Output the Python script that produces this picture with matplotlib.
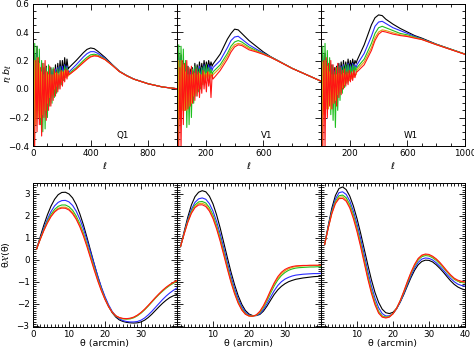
import matplotlib
matplotlib.use('Agg')
import matplotlib.pyplot as plt
from matplotlib.ticker import MultipleLocator, FixedLocator, NullFormatter

# ---------------- data: top row (r_l b_l vs multipole) ----------------
bands = ['Q1', 'V1', 'W1']
ell_noise = [0, 5, 12, 20, 28, 36, 44, 52, 60, 68, 76, 84, 92, 100, 108, 116,
             124, 132, 140, 148, 156, 164, 172, 180, 188, 196, 204, 212, 220, 228, 236, 244]
ell_smooth = [250, 300, 350, 375, 400, 425, 450, 500, 550, 600, 650, 700, 800, 900, 1000]

# Q1
q1_black_noise = [1.2, -0.9, 0.25, -0.1, 0.3, -0.1, 0.22, -0.12, 0.18, -0.1, 0.15, -0.08, 0.16, -0.05, 0.13, -0.02,
                  0.15, 0.0, 0.14, 0.03, 0.17, 0.06, 0.18, 0.08, 0.2, 0.1, 0.2, 0.12, 0.22, 0.13, 0.21, 0.14]
q1_blue_noise = [1.2, -0.9, 0.22, -0.15, 0.25, -0.12, 0.2, -0.15, 0.16, -0.12, 0.13, -0.1, 0.14, -0.07, 0.12, -0.04,
                 0.13, -0.02, 0.12, 0.01, 0.14, 0.04, 0.15, 0.06, 0.16, 0.08, 0.16, 0.1, 0.17, 0.11, 0.16, 0.12]
q1_green_noise = [1.3, -1.0, 0.32, -0.2, 0.3, -0.15, 0.28, -0.25, 0.2, -0.3, 0.18, -0.28, 0.15, -0.2, 0.17, -0.12,
                  0.14, -0.1, 0.15, -0.06, 0.12, -0.03, 0.14, 0.0, 0.15, 0.03, 0.13, 0.06, 0.16, 0.08, 0.15, 0.1]
q1_orange_noise = [1.2, -0.9, 0.2, -0.25, 0.22, -0.2, 0.18, -0.2, 0.12, -0.18, 0.1, -0.15, 0.12, -0.1, 0.1, -0.06,
                   0.1, -0.04, 0.1, 0.0, 0.11, 0.02, 0.11, 0.04, 0.12, 0.05, 0.12, 0.07, 0.13, 0.08, 0.13, 0.09]
q1_red_noise = [1.5, -1.2, -0.38, 0.2, -0.3, 0.22, -0.25, 0.15, -0.33, 0.18, -0.2, 0.2, -0.22, 0.12, -0.15, 0.16,
                -0.12, 0.1, -0.08, 0.14, -0.05, 0.12, -0.02, 0.1, 0.0, 0.13, 0.02, 0.12, 0.05, 0.14, 0.07, 0.13]
q1_black = [0.15, 0.2, 0.255, 0.278, 0.288, 0.283, 0.265, 0.222, 0.172, 0.125, 0.095, 0.07, 0.037, 0.014, 0.002]
q1_blue = [0.12, 0.17, 0.225, 0.248, 0.262, 0.262, 0.25, 0.215, 0.17, 0.124, 0.094, 0.07, 0.037, 0.014, 0.002]
q1_green = [0.11, 0.15, 0.2, 0.222, 0.24, 0.244, 0.238, 0.21, 0.168, 0.123, 0.094, 0.069, 0.037, 0.014, 0.002]
q1_orange = [0.1, 0.14, 0.19, 0.212, 0.23, 0.236, 0.232, 0.207, 0.167, 0.123, 0.093, 0.069, 0.037, 0.014, 0.002]
q1_red = [0.1, 0.14, 0.185, 0.207, 0.225, 0.232, 0.23, 0.206, 0.166, 0.122, 0.093, 0.069, 0.036, 0.014, 0.002]

# V1
v1_black_noise = [1.2, -0.9, 0.25, -0.05, 0.24, 0.0, 0.2, -0.05, 0.18, -0.04, 0.16, -0.02, 0.14, 0.0, 0.15, 0.05,
                  0.18, 0.07, 0.17, 0.09, 0.19, 0.1, 0.18, 0.12, 0.2, 0.13, 0.19, 0.14, 0.2, 0.15, 0.19, 0.16]
v1_blue_noise = [1.2, -0.9, 0.22, -0.08, 0.22, -0.04, 0.18, -0.08, 0.15, -0.06, 0.14, -0.04, 0.12, -0.02, 0.13, 0.02,
                 0.15, 0.04, 0.14, 0.06, 0.16, 0.07, 0.15, 0.09, 0.17, 0.1, 0.16, 0.11, 0.17, 0.12, 0.16, 0.13]
v1_green_noise = [1.3, -1.0, 0.31, -0.1, 0.3, -0.05, 0.28, -0.15, 0.2, -0.27, 0.15, -0.25, 0.1, -0.2, 0.14, -0.1,
                  0.16, -0.05, 0.15, -0.02, 0.14, 0.0, 0.15, 0.03, 0.16, 0.05, 0.17, 0.07, 0.15, 0.08, 0.14, 0.1]
v1_orange_noise = [1.2, -0.9, 0.2, -0.2, 0.2, -0.15, 0.17, -0.15, 0.12, -0.15, 0.1, -0.12, 0.1, -0.1, 0.1, -0.05,
                   0.11, -0.03, 0.1, 0.0, 0.11, 0.02, 0.1, 0.04, 0.12, 0.05, 0.11, 0.06, 0.12, 0.07, 0.11, 0.08]
v1_red_noise = [1.5, -1.2, -0.45, 0.15, -0.42, 0.2, -0.25, 0.18, -0.15, 0.2, -0.14, 0.15, -0.12, 0.16, -0.1, 0.12,
                -0.08, 0.14, -0.05, 0.12, -0.06, 0.1, -0.03, 0.13, 0.0, 0.1, -0.02, 0.12, 0.02, 0.1, -0.06, 0.1]
v1_black = [0.175, 0.245, 0.35, 0.39, 0.42, 0.415, 0.39, 0.34, 0.3, 0.26, 0.227, 0.2, 0.145, 0.1, 0.055]
v1_blue = [0.15, 0.2, 0.29, 0.34, 0.365, 0.37, 0.35, 0.31, 0.28, 0.252, 0.225, 0.199, 0.145, 0.1, 0.055]
v1_green = [0.12, 0.17, 0.25, 0.3, 0.33, 0.34, 0.33, 0.295, 0.27, 0.248, 0.224, 0.198, 0.145, 0.1, 0.055]
v1_orange = [0.1, 0.15, 0.23, 0.28, 0.31, 0.32, 0.315, 0.285, 0.265, 0.245, 0.223, 0.198, 0.145, 0.1, 0.055]
v1_red = [0.07, 0.13, 0.21, 0.26, 0.295, 0.31, 0.305, 0.275, 0.26, 0.243, 0.222, 0.197, 0.144, 0.1, 0.055]

# W1
w1_black_noise = [1.2, -0.9, 0.24, -0.04, 0.25, 0.0, 0.21, -0.03, 0.18, -0.02, 0.17, 0.0, 0.15, 0.02, 0.16, 0.06,
                  0.18, 0.08, 0.19, 0.1, 0.2, 0.12, 0.19, 0.13, 0.21, 0.14, 0.2, 0.15, 0.21, 0.16, 0.2, 0.18]
w1_blue_noise = [1.2, -0.9, 0.21, -0.07, 0.22, -0.03, 0.19, -0.06, 0.16, -0.05, 0.15, -0.03, 0.13, -0.01, 0.14, 0.03,
                 0.16, 0.05, 0.16, 0.07, 0.17, 0.09, 0.16, 0.1, 0.18, 0.11, 0.17, 0.12, 0.18, 0.13, 0.17, 0.15]
w1_green_noise = [1.3, -1.0, 0.3, -0.1, 0.32, -0.05, 0.27, -0.12, 0.22, -0.18, 0.16, -0.22, 0.12, -0.27, 0.15, -0.15,
                  0.16, -0.08, 0.15, -0.03, 0.16, 0.01, 0.17, 0.04, 0.17, 0.06, 0.16, 0.08, 0.17, 0.1, 0.16, 0.12]
w1_orange_noise = [1.2, -0.9, 0.19, -0.18, 0.2, -0.14, 0.16, -0.14, 0.12, -0.14, 0.1, -0.1, 0.1, -0.08, 0.1, -0.04,
                   0.11, -0.02, 0.1, 0.01, 0.11, 0.03, 0.1, 0.05, 0.11, 0.06, 0.1, 0.07, 0.11, 0.08, 0.1, 0.1]
w1_red_noise = [1.5, -1.2, -0.5, 0.2, -0.4, 0.22, -0.2, 0.18, -0.12, 0.2, -0.14, 0.17, -0.1, 0.15, -0.12, 0.18,
                -0.06, 0.15, -0.04, 0.13, 0.0, 0.14, 0.02, 0.12, 0.03, 0.13, 0.05, 0.12, 0.06, 0.13, 0.08, 0.12]
w1_black = [0.2, 0.31, 0.45, 0.5, 0.52, 0.515, 0.49, 0.455, 0.425, 0.4, 0.375, 0.357, 0.315, 0.28, 0.245]
w1_blue = [0.17, 0.25, 0.37, 0.44, 0.47, 0.475, 0.46, 0.43, 0.41, 0.39, 0.37, 0.352, 0.314, 0.279, 0.245]
w1_green = [0.15, 0.21, 0.32, 0.39, 0.43, 0.44, 0.43, 0.41, 0.39, 0.38, 0.365, 0.35, 0.313, 0.279, 0.245]
w1_orange = [0.135, 0.19, 0.29, 0.36, 0.4, 0.415, 0.41, 0.395, 0.38, 0.373, 0.36, 0.348, 0.312, 0.278, 0.244]
w1_red = [0.12, 0.17, 0.27, 0.34, 0.385, 0.405, 0.4, 0.385, 0.375, 0.368, 0.357, 0.347, 0.311, 0.277, 0.243]

# ---------------- data: bottom row (theta X(theta)) ----------------
theta = list(range(1, 41))
p1_black = [0.5, 1.05, 1.58, 2.05, 2.45, 2.76, 2.97, 3.07, 3.08, 3.0,
            2.82, 2.52, 2.1, 1.6, 1.02, 0.42, -0.18, -0.75, -1.27, -1.72,
            -2.1, -2.4, -2.6, -2.73, -2.8, -2.84, -2.86, -2.87, -2.86, -2.82,
            -2.74, -2.62, -2.47, -2.3, -2.13, -1.97, -1.83, -1.71, -1.63, -1.57]
p1_blue = [0.5, 0.98, 1.45, 1.85, 2.2, 2.46, 2.62, 2.7, 2.71, 2.64,
           2.48, 2.22, 1.86, 1.42, 0.9, 0.35, -0.2, -0.74, -1.24, -1.67,
           -2.04, -2.34, -2.55, -2.68, -2.76, -2.8, -2.82, -2.82, -2.8, -2.74,
           -2.64, -2.5, -2.34, -2.16, -1.98, -1.8, -1.64, -1.5, -1.38, -1.27]
p1_green = [0.5, 0.95, 1.38, 1.76, 2.07, 2.3, 2.44, 2.5, 2.5, 2.42,
            2.26, 2.0, 1.65, 1.22, 0.72, 0.18, -0.36, -0.88, -1.35, -1.77,
            -2.12, -2.38, -2.55, -2.64, -2.68, -2.69, -2.68, -2.63, -2.54, -2.42,
            -2.27, -2.1, -1.92, -1.74, -1.57, -1.42, -1.28, -1.16, -1.06, -0.97]
p1_orange = [0.5, 0.94, 1.35, 1.71, 2.0, 2.22, 2.35, 2.4, 2.4, 2.32,
             2.16, 1.91, 1.57, 1.15, 0.66, 0.13, -0.4, -0.91, -1.37, -1.78,
             -2.12, -2.38, -2.54, -2.63, -2.67, -2.68, -2.66, -2.61, -2.52, -2.4,
             -2.25, -2.08, -1.9, -1.72, -1.55, -1.39, -1.25, -1.13, -1.03, -0.94]
p1_red = [0.5, 0.93, 1.33, 1.68, 1.97, 2.18, 2.31, 2.36, 2.35, 2.27,
          2.1, 1.85, 1.51, 1.09, 0.6, 0.07, -0.46, -0.96, -1.41, -1.8,
          -2.13, -2.38, -2.54, -2.62, -2.66, -2.67, -2.65, -2.6, -2.51, -2.39,
          -2.24, -2.07, -1.89, -1.71, -1.54, -1.38, -1.24, -1.12, -1.02, -0.94]

p2_black = [0.62, 1.3, 1.95, 2.5, 2.88, 3.08, 3.15, 3.1, 2.9, 2.55,
            2.05, 1.45, 0.78, 0.1, -0.55, -1.13, -1.63, -2.02, -2.3, -2.46,
            -2.53, -2.53, -2.48, -2.33, -2.1, -1.83, -1.57, -1.36, -1.2, -1.08,
            -0.99, -0.93, -0.88, -0.85, -0.82, -0.8, -0.78, -0.76, -0.75, -0.74]
p2_blue = [0.62, 1.25, 1.83, 2.3, 2.62, 2.78, 2.82, 2.76, 2.56, 2.22,
           1.75, 1.18, 0.54, -0.12, -0.75, -1.3, -1.77, -2.13, -2.37, -2.5,
           -2.54, -2.53, -2.45, -2.26, -1.99, -1.69, -1.4, -1.16, -0.99, -0.87,
           -0.79, -0.73, -0.69, -0.67, -0.65, -0.64, -0.63, -0.62, -0.62, -0.61]
p2_green = [0.62, 1.22, 1.77, 2.21, 2.5, 2.64, 2.66, 2.59, 2.38, 2.04,
            1.57, 1.0, 0.37, -0.28, -0.9, -1.44, -1.89, -2.22, -2.43, -2.53,
            -2.55, -2.52, -2.4, -2.17, -1.86, -1.51, -1.18, -0.91, -0.71, -0.57,
            -0.47, -0.41, -0.37, -0.35, -0.34, -0.33, -0.32, -0.32, -0.31, -0.31]
p2_orange = [0.62, 1.2, 1.74, 2.16, 2.43, 2.56, 2.58, 2.5, 2.29, 1.95,
             1.48, 0.92, 0.29, -0.36, -0.97, -1.5, -1.94, -2.26, -2.46, -2.55,
             -2.56, -2.51, -2.37, -2.12, -1.8, -1.44, -1.1, -0.83, -0.63, -0.49,
             -0.4, -0.34, -0.3, -0.28, -0.27, -0.26, -0.26, -0.25, -0.25, -0.25]
p2_red = [0.62, 1.19, 1.71, 2.12, 2.38, 2.5, 2.51, 2.43, 2.22, 1.88,
          1.41, 0.85, 0.22, -0.42, -1.02, -1.54, -1.97, -2.28, -2.47, -2.55,
          -2.56, -2.5, -2.34, -2.08, -1.75, -1.38, -1.04, -0.76, -0.56, -0.43,
          -0.35, -0.3, -0.27, -0.26, -0.25, -0.25, -0.24, -0.24, -0.24, -0.24]

p3_black = [0.7, 1.55, 2.35, 2.93, 3.25, 3.32, 3.2, 2.9, 2.45, 1.88,
            1.22, 0.5, -0.22, -0.9, -1.48, -1.93, -2.24, -2.4, -2.44, -2.38,
            -2.2, -1.92, -1.57, -1.18, -0.8, -0.47, -0.22, -0.07, -0.01, -0.02,
            -0.09, -0.22, -0.38, -0.56, -0.76, -0.95, -1.11, -1.23, -1.31, -1.36]
p3_blue = [0.7, 1.5, 2.24, 2.77, 3.06, 3.1, 2.98, 2.68, 2.22, 1.64,
           0.97, 0.24, -0.5, -1.18, -1.74, -2.17, -2.44, -2.55, -2.54, -2.44,
           -2.23, -1.92, -1.54, -1.12, -0.72, -0.37, -0.11, 0.04, 0.09, 0.07,
           0.0, -0.13, -0.29, -0.47, -0.66, -0.84, -0.99, -1.1, -1.16, -1.19]
p3_green = [0.7, 1.47, 2.17, 2.66, 2.92, 2.95, 2.83, 2.52, 2.05, 1.46,
            0.78, 0.04, -0.7, -1.37, -1.92, -2.33, -2.55, -2.6, -2.57, -2.44,
            -2.21, -1.88, -1.48, -1.05, -0.63, -0.27, 0.0, 0.15, 0.2, 0.18,
            0.1, -0.02, -0.18, -0.36, -0.55, -0.73, -0.88, -0.97, -1.02, -1.05]
p3_orange = [0.7, 1.45, 2.13, 2.61, 2.85, 2.87, 2.74, 2.43, 1.96, 1.37,
             0.69, -0.05, -0.79, -1.45, -1.99, -2.38, -2.58, -2.62, -2.58, -2.44,
             -2.2, -1.86, -1.45, -1.01, -0.59, -0.23, 0.04, 0.19, 0.24, 0.22,
             0.14, 0.02, -0.14, -0.33, -0.52, -0.7, -0.85, -0.95, -1.0, -1.02]
p3_red = [0.7, 1.44, 2.1, 2.56, 2.79, 2.8, 2.67, 2.36, 1.88, 1.29,
          0.61, -0.13, -0.86, -1.51, -2.04, -2.42, -2.6, -2.64, -2.6, -2.45,
          -2.2, -1.85, -1.43, -0.98, -0.56, -0.2, 0.07, 0.22, 0.27, 0.25,
          0.17, 0.05, -0.11, -0.3, -0.5, -0.68, -0.83, -0.92, -0.97, -1.0]

top_xticks = [[0, 400, 800], [200, 600], [200, 600, 1000]]
bot_xticks = [[0, 10, 20, 30], [10, 20, 30], [10, 20, 30, 40]]
top_yticks = [-0.4, -0.2, 0.0, 0.2, 0.4, 0.6]
bot_yticks = [-3, -2, -1, 0, 1, 2, 3]

# ---------------- plotting ----------------
colors = ['black', '#2a2aff', '#1ec01e', '#e0a010', '#ff1414']
top_series = [
    [(q1_black_noise, q1_black), (q1_blue_noise, q1_blue), (q1_green_noise, q1_green),
     (q1_orange_noise, q1_orange), (q1_red_noise, q1_red)],
    [(v1_black_noise, v1_black), (v1_blue_noise, v1_blue), (v1_green_noise, v1_green),
     (v1_orange_noise, v1_orange), (v1_red_noise, v1_red)],
    [(w1_black_noise, w1_black), (w1_blue_noise, w1_blue), (w1_green_noise, w1_green),
     (w1_orange_noise, w1_orange), (w1_red_noise, w1_red)],
]
bot_series = [
    [p1_black, p1_blue, p1_green, p1_orange, p1_red],
    [p2_black, p2_blue, p2_green, p2_orange, p2_red],
    [p3_black, p3_blue, p3_green, p3_orange, p3_red],
]

plt.rcParams['font.family'] = ['DejaVu Sans']
plt.rcParams['mathtext.fontset'] = 'dejavusans'
W, H = 474, 351
fig = plt.figure(figsize=(W / 100, H / 100), dpi=100)

x0s = [33, 177, 321]
pw = 144
fs = 6.3


def style(ax, xmaj, xmin, ymaj, ymin, show_y):
    ax.xaxis.set_major_locator(FixedLocator(xmaj))
    ax.xaxis.set_minor_locator(MultipleLocator(xmin))
    ax.yaxis.set_major_locator(FixedLocator(ymaj))
    ax.yaxis.set_minor_locator(MultipleLocator(ymin))
    ax.tick_params(which='both', direction='in', top=True, right=True,
                   labelsize=fs, width=0.6, pad=2.5)
    ax.tick_params(which='major', length=4.5)
    ax.tick_params(which='minor', length=2.2)
    if not show_y:
        ax.yaxis.set_major_formatter(NullFormatter())
    for s in ax.spines.values():
        s.set_linewidth(0.7)


for i in range(3):
    # top panel
    ax = fig.add_axes([x0s[i] / W, 1 - 146 / H, pw / W, 142.5 / H])
    for (nz, sm), c in zip(top_series[i], colors):
        ax.plot(ell_noise + ell_smooth, nz + sm, color=c, lw=0.8)
    ax.set_xlim(0, 1000)
    ax.set_ylim(-0.4, 0.6)
    style(ax, top_xticks[i], 100, top_yticks, 0.05, i == 0)
    ax.set_xlabel(r'$\ell$', fontsize=fs + 0.5, labelpad=1)
    ax.text(0.625, 0.075, bands[i], transform=ax.transAxes, fontsize=fs,
            ha='center', va='center')

    # bottom panel
    bx = fig.add_axes([x0s[i] / W, 1 - 327 / H, pw / W, 144 / H])
    for ys, c in zip(bot_series[i], colors):
        bx.plot(theta, ys, color=c, lw=0.8)
    bx.set_xlim(0, 40)
    bx.set_ylim(-3.05, 3.5)
    style(bx, bot_xticks[i], 1, bot_yticks, 0.1, i == 0)
    bx.set_xlabel('θ (arcmin)', fontsize=fs + 0.5, labelpad=0)
    if i == 0:
        bx.set_ylabel('θ' + r'$\mathcal{X}$' + '(θ)', fontsize=fs + 0.5, labelpad=3)

fig.text(2 / W, 1 - 74 / H, r'$r_\ell\, b_\ell$', fontsize=fs + 0.5,
         rotation=90, ha='left', va='center')

fig.savefig('out.png', dpi=100)
